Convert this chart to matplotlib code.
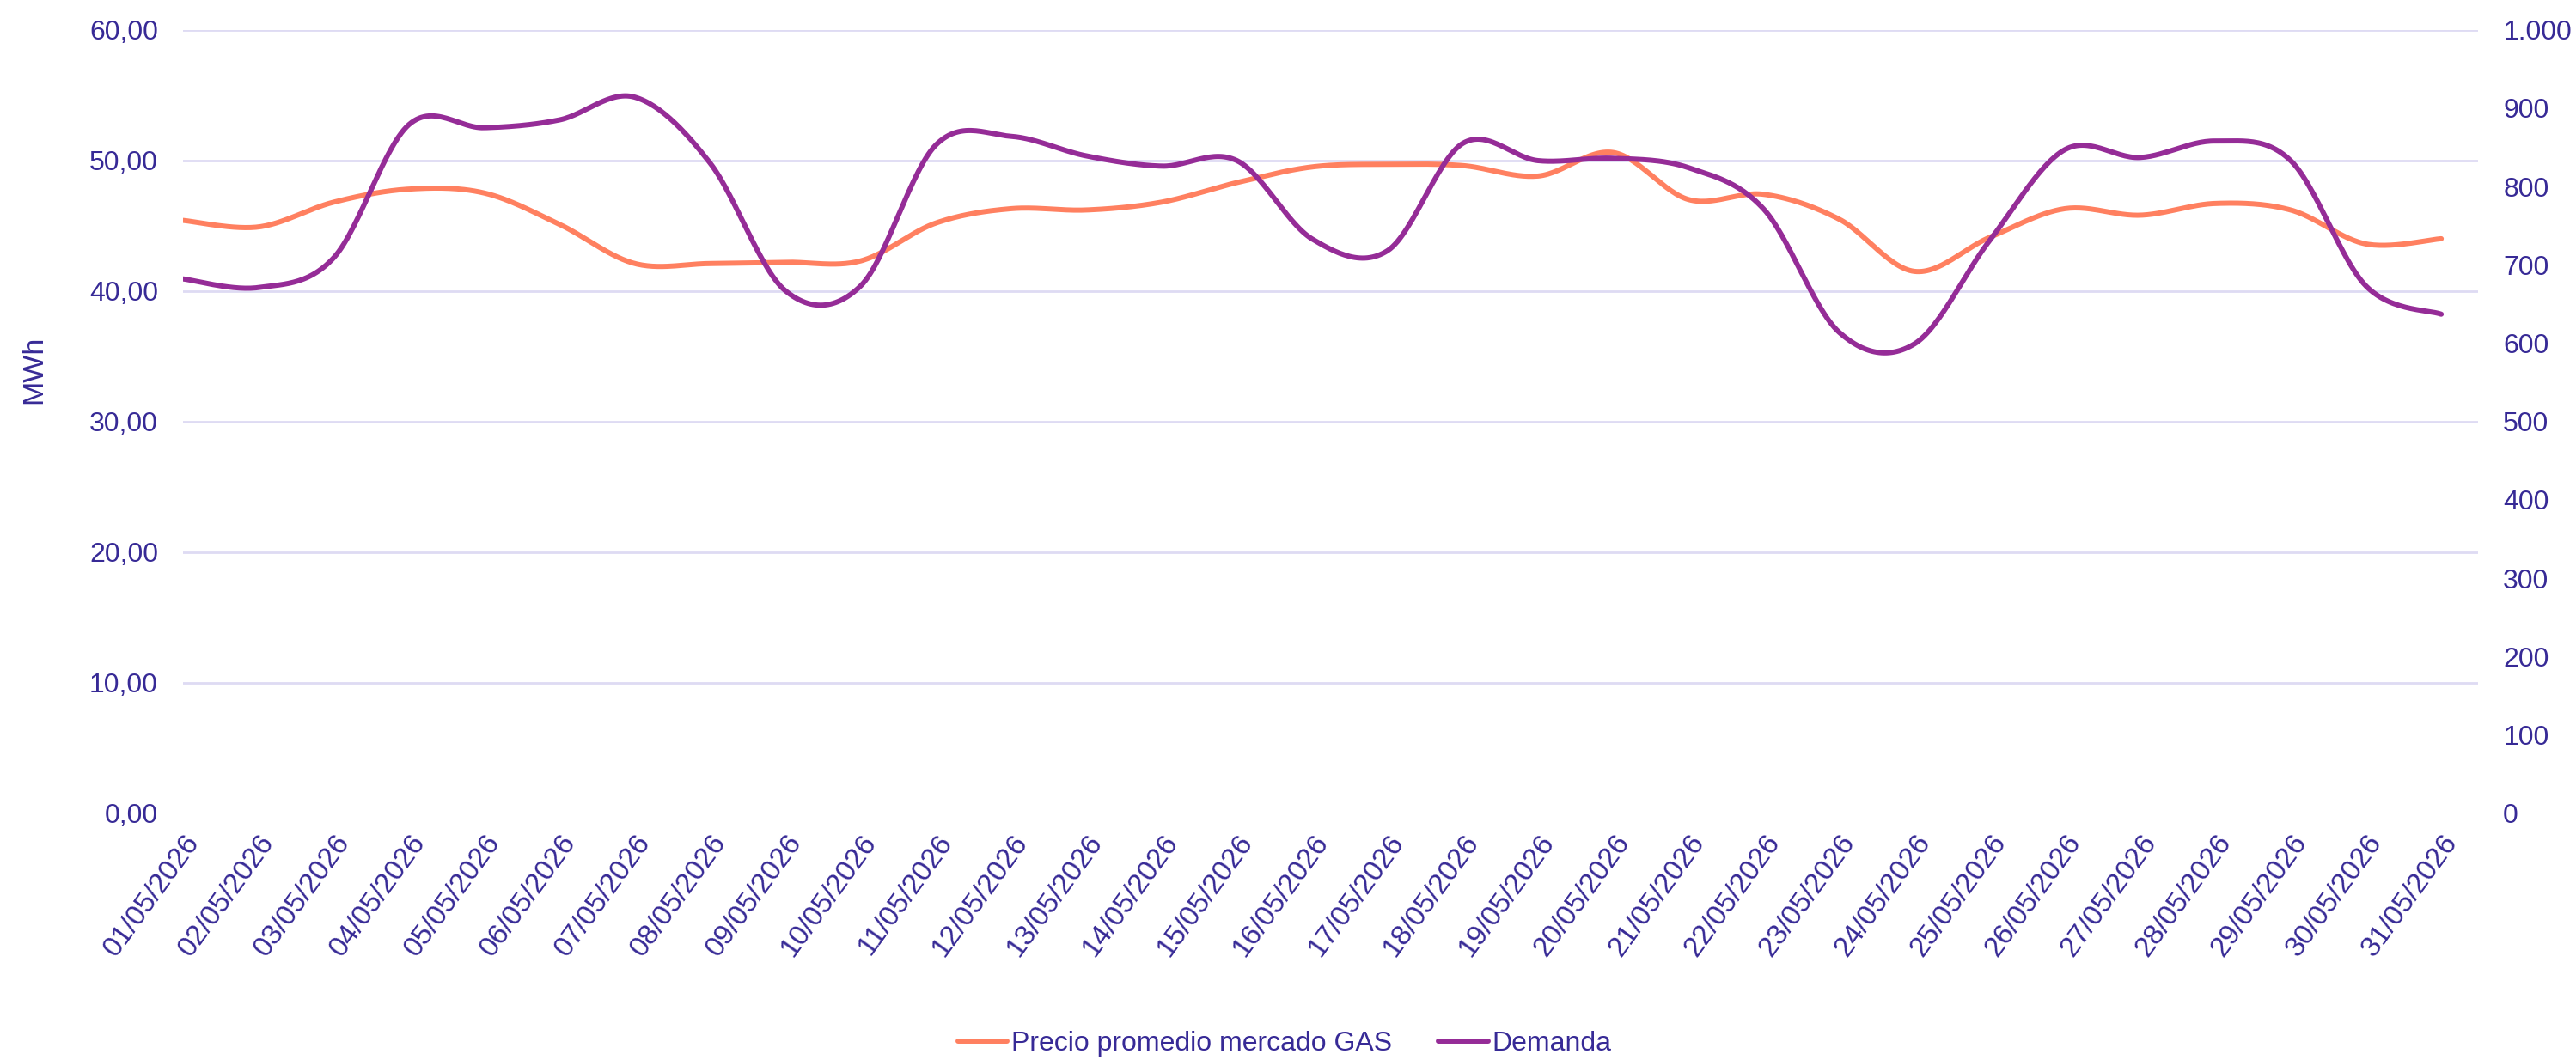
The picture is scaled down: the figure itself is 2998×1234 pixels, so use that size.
import numpy as np
import matplotlib.pyplot as plt
from matplotlib.ticker import FuncFormatter

# Datos
fechas = [f"{d:02d}/05/2026" for d in range(1, 32)]
precio_gas = [45.4, 44.9, 46.8, 47.8, 47.5, 45.1, 42.1, 42.1, 42.2, 42.3,
              45.2, 46.3, 46.2, 46.8, 48.3, 49.5, 49.7, 49.6, 48.8, 50.6,
              47.0, 47.4, 45.5, 41.5, 44.1, 46.3, 45.8, 46.7, 46.2, 43.6, 44.0]
demanda = [682, 671, 709, 879, 875, 885, 914, 830, 667, 673,
           853, 864, 839, 826, 833, 733, 718, 855, 833, 836,
           824, 771, 614, 599, 731, 847, 837, 858, 833, 673, 637]

col_texto = "#372A96"
col_grid = "#DEDBF3"
col_precio = "#FF8060"
col_demanda = "#952C97"

plt.rcParams['font.family'] = ['Liberation Sans', 'DejaVu Sans']


def suavizar(y, n=30):
    # curva tipo Catmull-Rom (suavizado de línea como en Excel)
    y = np.asarray(y, dtype=float)
    x = np.arange(len(y), dtype=float)
    px = np.concatenate([[x[0]], x, [x[-1]]])
    py = np.concatenate([[y[0]], y, [y[-1]]])
    xs, ys = [], []
    t = np.linspace(0, 1, n, endpoint=False)
    for i in range(1, len(px) - 2):
        p0, p1, p2, p3 = (np.array([px[k], py[k]]) for k in (i - 1, i, i + 1, i + 2))
        c1 = p1 + (p2 - p0) / 6
        c2 = p2 - (p3 - p1) / 6
        b = ((1 - t) ** 3)[:, None] * p1 + (3 * (1 - t) ** 2 * t)[:, None] * c1 \
            + (3 * (1 - t) * t ** 2)[:, None] * c2 + (t ** 3)[:, None] * p2
        xs.append(b[:, 0])
        ys.append(b[:, 1])
    xs.append([x[-1]])
    ys.append([y[-1]])
    return np.concatenate(xs), np.concatenate(ys)


fig = plt.figure(figsize=(29.98, 12.34), dpi=100)
ax = fig.add_axes([0.0711, 0.2328, 0.962 - 0.0711, 0.9719 - 0.2328])
ax2 = ax.twinx()

x = np.arange(len(fechas))
sx, sy = suavizar(precio_gas)
l1, = ax.plot(sx, sy, color=col_precio, lw=4.3, solid_capstyle='round', zorder=3)
sx2, sy2 = suavizar(demanda)
l2, = ax2.plot(sx2, sy2, color=col_demanda, lw=4.3, solid_capstyle='round', zorder=3)

ax.set_xlim(0, 30.49)
ax.set_ylim(0, 60)
ax2.set_ylim(0, 1000)
ax.set_yticks(np.arange(0, 61, 10))
ax2.set_yticks(np.arange(0, 1001, 100))
ax.yaxis.set_major_formatter(FuncFormatter(lambda v, p: f"{v:.2f}".replace(".", ",")))
ax2.yaxis.set_major_formatter(FuncFormatter(lambda v, p: f"{int(v):,}".replace(",", ".")))

ax.set_xticks(x)
ax.set_xticklabels(fechas, rotation=54, ha='right', rotation_mode='anchor')

ax.grid(axis='y', color=col_grid, lw=2)
ax.set_axisbelow(True)
for a in (ax, ax2):
    for s in a.spines.values():
        s.set_visible(False)
    a.tick_params(length=0, labelsize=23, labelcolor=col_texto)
ax.tick_params(axis='y', pad=21)
ax.tick_params(axis='x', pad=14, labelsize=24)
ax2.tick_params(axis='y', pad=21)

fig.text(0.0133, 1 - 430 / 1234, "MWh", rotation=90, ha='center', va='center',
         fontsize=24.5, color=col_texto)

fig.legend([l1, l2], ["Precio promedio mercado GAS", "Demanda"],
           loc='center', bbox_to_anchor=(0.4987, 1 - 1215 / 1234), ncol=2,
           frameon=False, fontsize=23, labelcolor=col_texto,
           handlelength=1.8, handletextpad=0.15, columnspacing=1.7)

fig.savefig("out.png", dpi=100)
